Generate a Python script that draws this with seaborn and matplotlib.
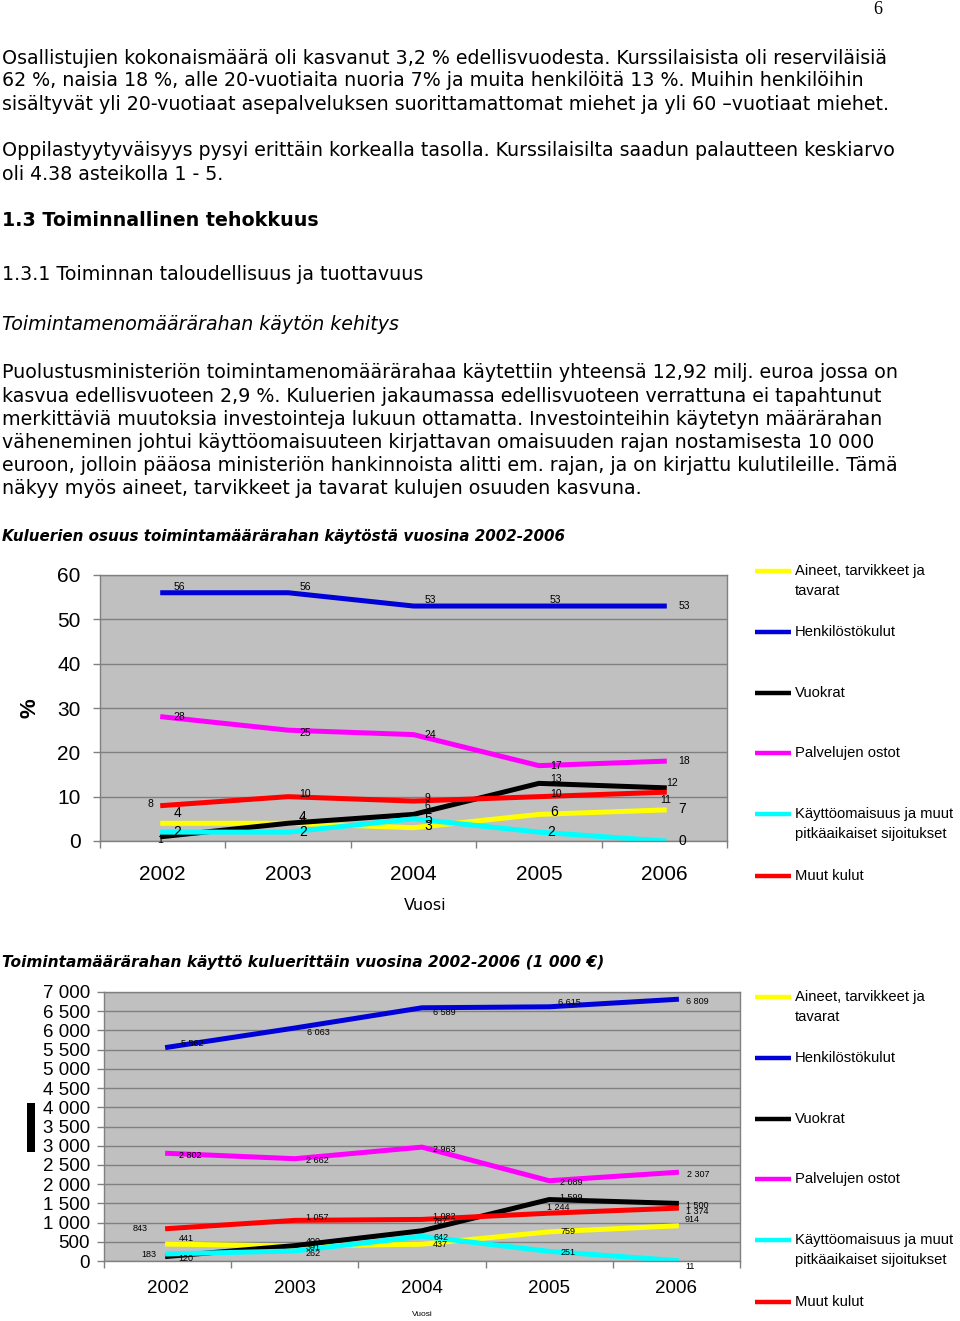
import matplotlib
matplotlib.use("Agg")
import matplotlib.pyplot as plt
from matplotlib.lines import Line2D
from matplotlib.patches import Rectangle
from matplotlib.ticker import FixedLocator, FuncFormatter
import seaborn as sns
import pandas as pd

# ---------------- data ----------------
years = ["2002", "2003", "2004", "2005", "2006"]
series_names = ["Aineet, tarvikkeet ja\ntavarat", "Henkilöstökulut", "Vuokrat",
                "Palvelujen ostot", "Käyttöomaisuus ja muut\npitkäaikaiset sijoitukset", "Muut kulut"]
keys = ["Aineet", "Henkilosto", "Vuokrat", "Palvelut", "Kayttoomaisuus", "Muut"]

pct_aineet = [4, 4, 3, 6, 7]
pct_henkilosto = [56, 56, 53, 53, 53]
pct_vuokrat = [1, 4, 6, 13, 12]
pct_palvelut = [28, 25, 24, 17, 18]
pct_kaytto = [2, 2, 5, 2, 0]
pct_muut = [8, 10, 9, 10, 11]

eur_aineet = [441, 391, 437, 759, 914]
eur_henkilosto = [5562, 6063, 6589, 6615, 6809]
eur_vuokrat = [120, 400, 787, 1599, 1500]
eur_palvelut = [2802, 2662, 2963, 2089, 2307]
eur_kaytto = [183, 262, 642, 251, 11]
eur_muut = [843, 1057, 1082, 1244, 1374]

pct_ticks = [0, 10, 20, 30, 40, 50, 60]
eur_ticks = list(range(0, 7001, 500))

title1 = "Kuluerien osuus toimintamäärärahan käytöstä vuosina 2002-2006"
title2 = "Toimintamäärärahan käyttö kuluerittäin vuosina 2002-2006 (1 000 €)"
xlabel = "Vuosi"

para1 = ["Osallistujien kokonaismäärä oli kasvanut 3,2 % edellisvuodesta. Kurssilaisista oli reserviläisiä",
         "62 %, naisia 18 %, alle 20-vuotiaita nuoria 7% ja muita henkilöitä 13 %. Muihin henkilöihin",
         "sisältyvät yli 20-vuotiaat asepalveluksen suorittamattomat miehet ja yli 60 –vuotiaat miehet."]
para2 = ["Oppilastyytyväisyys pysyi erittäin korkealla tasolla. Kurssilaisilta saadun palautteen keskiarvo",
         "oli 4.38 asteikolla 1 - 5."]
heading1 = "1.3 Toiminnallinen tehokkuus"
heading2 = "1.3.1 Toiminnan taloudellisuus ja tuottavuus"
heading3 = "Toimintamenomäärärahan käytön kehitys"
para3 = ["Puolustusministeriön toimintamenomäärärahaa käytettiin yhteensä 12,92 milj. euroa jossa on",
         "kasvua edellisvuoteen 2,9 %. Kuluerien jakaumassa edellisvuoteen verrattuna ei tapahtunut",
         "merkittäviä muutoksia investointeja lukuun ottamatta. Investointeihin käytetyn määrärahan",
         "väheneminen johtui käyttöomaisuuteen kirjattavan omaisuuden rajan nostamisesta 10 000",
         "euroon, jolloin pääosa ministeriön hankinnoista alitti em. rajan, ja on kirjattu kulutileille. Tämä",
         "näkyy myös aineet, tarvikkeet ja tavarat kulujen osuuden kasvuna."]
page_no = "6"

colors = {"Aineet": "#FFFF00", "Henkilosto": "#0000D8", "Vuokrat": "#000000",
          "Palvelut": "#FF00FF", "Kayttoomaisuus": "#00FFFF", "Muut": "#FF0000"}

pct = dict(zip(keys, [pct_aineet, pct_henkilosto, pct_vuokrat, pct_palvelut, pct_kaytto, pct_muut]))
eur = dict(zip(keys, [eur_aineet, eur_henkilosto, eur_vuokrat, eur_palvelut, eur_kaytto, eur_muut]))


def long_df(d):
    rows = []
    for k in keys:
        for i, v in enumerate(d[k]):
            rows.append({"x": i, "y": v, "s": k})
    return pd.DataFrame(rows)


# ---------------- figure ----------------
W, H = 960, 1321
fig = plt.figure(figsize=(W / 100, H / 100), dpi=100)
fig.patch.set_facecolor("white")

def fy(py):
    return 1 - py / H

def fx(px):
    return px / W

BODY = "DejaVu Sans"
ARIAL = "Liberation Sans"

# page number
fig.text(fx(878), fy(9), page_no, fontsize=13, family="Liberation Serif", ha="center", va="center")

body_fs = 13.7
for i, line in enumerate(para1):
    fig.text(fx(2), fy(58 + 23 * i), line, fontsize=body_fs, family=BODY, va="center")
for i, line in enumerate(para2):
    fig.text(fx(2), fy(151 + 23 * i), line, fontsize=body_fs, family=BODY, va="center")
fig.text(fx(2), fy(220), heading1, fontsize=body_fs, family=BODY, weight="bold", va="center")
fig.text(fx(2), fy(275), heading2, fontsize=body_fs, family=BODY, va="center")
fig.text(fx(2), fy(324), heading3, fontsize=body_fs, family=BODY, style="italic", va="center")
for i, line in enumerate(para3):
    fig.text(fx(2), fy(373 + 23.2 * i), line, fontsize=body_fs, family=BODY, va="center")
fig.text(fx(2), fy(536), title1, fontsize=10.9, family=BODY, weight="bold", style="italic", va="center")
fig.text(fx(2), fy(962), title2, fontsize=11.1, family=BODY, weight="bold", style="italic", va="center")

GRAY_BG = "#C0C0C0"
GRID = "#808080"


def style_axes(ax, ymax, ticks, ytick_fs, xtick_fs, ypad, xpad):
    ax.set_facecolor(GRAY_BG)
    ax.set_xlim(-0.5, 4.5)
    ax.set_ylim(0, ymax)
    ax.set_yticks(ticks)
    ax.yaxis.grid(True, color=GRID, linewidth=1.0)
    ax.xaxis.grid(False)
    ax.set_axisbelow(True)
    for sp in ax.spines.values():
        sp.set_color(GRID)
        sp.set_linewidth(1.0)
        sp.set_visible(True)
    ax.set_xticks(range(5))
    ax.set_xticklabels(years)
    ax.xaxis.set_minor_locator(FixedLocator([-0.5, 0.5, 1.5, 2.5, 3.5, 4.5]))
    ax.tick_params(axis="x", which="major", length=0, pad=xpad, labelsize=xtick_fs)
    ax.tick_params(axis="x", which="minor", length=5, color=GRID, width=1)
    ax.tick_params(axis="y", which="major", length=5, color=GRID, width=1, pad=ypad, labelsize=ytick_fs)
    ax.set_xlabel("")
    ax.set_ylabel("")


def draw_labels(ax, data, fmt, fs_map, default_off, overrides):
    for k in keys:
        for i, v in enumerate(data[k]):
            dx, dy, ha = overrides.get((k, i), default_off.get(k, (11, 0, "left")))
            ax.annotate(fmt(v), (i, v), xytext=(dx * 0.72, dy * 0.72), textcoords="offset points",
                        ha=ha, va="center", fontsize=fs_map.get(k, 7.5), family=ARIAL, color="black")


# ---------------- chart 1 ----------------
ax1 = fig.add_axes([fx(100), fy(841), fx(727) - fx(100), fy(575) - fy(841)])
sns.lineplot(data=long_df(pct), x="x", y="y", hue="s", hue_order=keys, palette=colors,
             linewidth=3.6, ax=ax1, legend=False, sort=False)
style_axes(ax1, 60, pct_ticks, 15, 15, 9, 17)
ax1.yaxis.set_major_formatter(FuncFormatter(lambda v, p: f"{int(v)}"))
for lab in ax1.get_xticklabels() + ax1.get_yticklabels():
    lab.set_family(ARIAL)

def1 = {"Henkilosto": (11, 6, "left"), "Palvelut": (11, 0, "left"), "Muut": (11, 3, "left"),
        "Vuokrat": (11, 4, "left"), "Aineet": (11, 2, "left"), "Kayttoomaisuus": (11, 0, "left")}
ov1 = {("Henkilosto", 4): (14, 0, "left"), ("Muut", 0): (-9, 2, "right"),
       ("Vuokrat", 0): (-3, -3, "center"), ("Vuokrat", 1): (12, 2, "left"),
       ("Vuokrat", 2): (11, 8, "left"),
       ("Vuokrat", 4): (2, 5, "left"), ("Aineet", 0): (11, 10, "left"),
       ("Aineet", 1): (11, 6, "left"),
       ("Palvelut", 1): (11, -3, "left"), ("Muut", 4): (-4, -8, "left"),
       ("Kayttoomaisuus", 3): (8, 0, "left"), ("Kayttoomaisuus", 4): (14, 0, "left"),
       ("Aineet", 4): (14, 1, "left"), ("Palvelut", 4): (14, 0, "left")}
fs1 = {"Aineet": 10, "Kayttoomaisuus": 10, "Henkilosto": 7.5, "Palvelut": 7.5, "Vuokrat": 7.5, "Muut": 7.5}
draw_labels(ax1, pct, lambda v: f"{v}", fs1, def1, ov1)

fig.text(fx(30), fy(708), "%", fontsize=16, weight="bold", family=ARIAL, rotation=90, ha="center", va="center")
fig.text(fx(425), fy(905), xlabel, fontsize=11.5, family=BODY, ha="center", va="center")

# ---------------- chart 2 ----------------
ax2 = fig.add_axes([fx(104), fy(1261), fx(740) - fx(104), fy(992) - fy(1261)])
sns.lineplot(data=long_df(eur), x="x", y="y", hue="s", hue_order=keys, palette=colors,
             linewidth=3.6, ax=ax2, legend=False, sort=False)
style_axes(ax2, 7000, eur_ticks, 13.5, 13.5, 5, 14)
ax2.yaxis.set_major_formatter(FuncFormatter(lambda v, p: f"{int(v):,}".replace(",", " ")))
for lab in ax2.get_xticklabels() + ax2.get_yticklabels():
    lab.set_family(ARIAL)

def2 = {"Henkilosto": (11, 0, "left"), "Palvelut": (11, -2, "left"), "Muut": (11, 3, "left"),
        "Vuokrat": (11, 2, "left"), "Aineet": (11, 0, "left"), "Kayttoomaisuus": (11, -1, "left")}
ov2 = {("Henkilosto", 0): (13, 4, "left"), ("Henkilosto", 1): (12, -4, "left"),
       ("Henkilosto", 2): (11, -5, "left"), ("Henkilosto", 3): (9, 4, "left"),
       ("Henkilosto", 4): (10, -2, "left"), ("Vuokrat", 0): (11, -2, "left"),
       ("Vuokrat", 1): (11, 4, "left"),
       ("Vuokrat", 2): (11, 9, "left"), ("Vuokrat", 4): (10, -2, "left"),
       ("Muut", 0): (-20, 0, "right"), ("Muut", 3): (-2, 6, "left"), ("Muut", 4): (10, -3, "left"),
       ("Aineet", 0): (11, 6, "left"), ("Aineet", 1): (11, -2, "left"), ("Aineet", 4): (8, 6, "left"),
       ("Kayttoomaisuus", 0): (-11, -1, "right"), ("Kayttoomaisuus", 1): (11, -3, "left"),
       ("Kayttoomaisuus", 4): (9, -6, "left")}
fs2 = {k: 6.5 for k in keys}
draw_labels(ax2, eur, lambda v: f"{v:,}".replace(",", " "), fs2, def2, ov2)

fig.text(fx(422), fy(1314), xlabel, fontsize=6, family=ARIAL, ha="center", va="center")
fig.patches.append(Rectangle((fx(27), fy(1152)), fx(8), 49 / H, transform=fig.transFigure,
                             facecolor="black", edgecolor="none"))

# ---------------- legends ----------------
leg_y1 = [571, 632, 693, 753, 814, 876]
leg_y2 = [997, 1058, 1119, 1179, 1240, 1302]
for ys in (leg_y1, leg_y2):
    for k, name, y in zip(keys, series_names, ys):
        fig.add_artist(Line2D([fx(755), fx(791)], [fy(y), fy(y)], color=colors[k], linewidth=3.2,
                              transform=fig.transFigure, solid_capstyle="butt"))
        for j, part in enumerate(name.split("\n")):
            fig.text(fx(795), fy(y + 20 * j), part, fontsize=10.6, family=ARIAL, ha="left", va="center")

fig.savefig("out.png", dpi=100)
